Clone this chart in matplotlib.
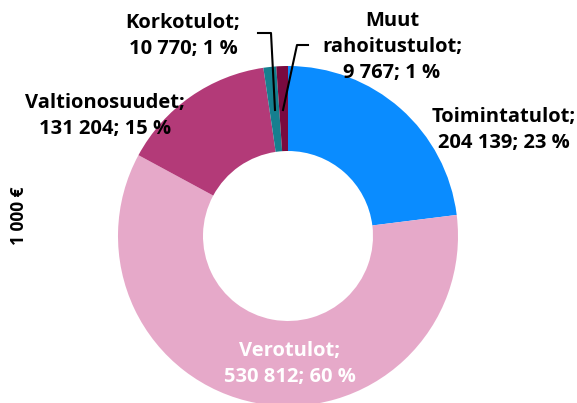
import matplotlib
matplotlib.use('Agg')
import matplotlib.pyplot as plt

# tulot, 1 000 €
labels = ['Toimintatulot', 'Verotulot', 'Valtionosuudet', 'Korkotulot', 'Muut\nrahoitustulot']
values = [204139, 530812, 131204, 10770, 9767]
percents = [23, 60, 15, 1, 1]
colors = ['#0A8CFF', '#E6A9C9', '#B33A78', '#167F8F', '#7A0A3F']

plt.rcParams['font.family'] = ['Open Sans', 'DejaVu Sans']


def fmt(v):
    return f'{v:,}'.replace(',', ' ')


fig = plt.figure(figsize=(5.77, 4.03), dpi=100)
ax = fig.add_axes([0, 0, 1, 1])

cx, cy, r = 288, 167, 170
wedges, _ = ax.pie(values, colors=colors, startangle=90, counterclock=False,
                   center=(cx, cy), radius=r, frame=True,
                   wedgeprops=dict(width=r * 0.5, linewidth=0))
ax.set_xlim(0, 577)
ax.set_ylim(0, 403)
ax.set_aspect('equal')
ax.axis('off')

txt = dict(fontsize=14.5, fontweight='bold', ha='center', va='center', linespacing=1.4)
texts = [f'{l};\n{fmt(v)}; {p} %' for l, v, p in zip(labels, values, percents)]

ax.text(504, 273, texts[0], **txt)
ax.text(290, 39, texts[1], color='white', **txt)
ax.text(105, 287, texts[2], **txt)
ax.text(183, 367, texts[3], **txt)
ax.text(392, 356, texts[4], **txt)

# leader lines for the small slices
ax.plot([258, 271, 275], [370, 370, 293], color='black', lw=1.5)
ax.plot([308, 297, 283], [358, 358, 293], color='black', lw=1.5)

ax.text(19, 187, '1 000 €', rotation=90, fontsize=12.5, fontweight='bold',
        ha='center', va='center')

fig.savefig('out.png', dpi=100)
